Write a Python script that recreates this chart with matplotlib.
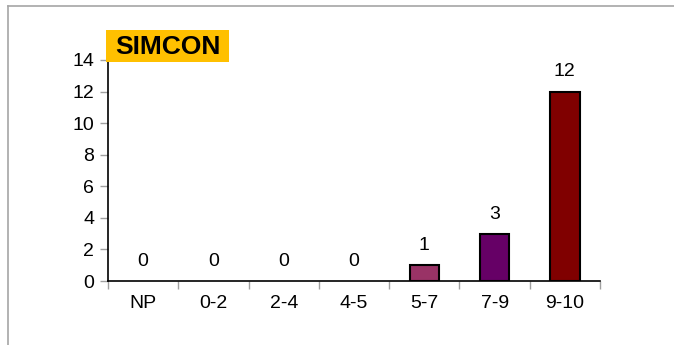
import matplotlib
matplotlib.use("Agg")
import matplotlib.pyplot as plt
from matplotlib.lines import Line2D
from matplotlib.patches import Rectangle

categories = ["NP", "0-2", "2-4", "4-5", "5-7", "7-9", "9-10"]
values = [0, 0, 0, 0, 1, 3, 12]
bar_colors = ["#993366", "#993366", "#993366", "#993366", "#993366", "#660066", "#800000"]
title = "SIMCON"
yticks = [0, 2, 4, 6, 8, 10, 12, 14]

plt.rcParams['font.family'] = ['Liberation Sans', 'DejaVu Sans']

W, H = 674, 345
fig = plt.figure(figsize=(W / 100, H / 100), dpi=100)
fig.patch.set_facecolor("white")

ax = fig.add_axes([108 / W, 1 - 281 / H, (600 - 108) / W, (281 - 60) / H])
x = list(range(len(categories)))
lws = [1.5 if v > 0 else 0 for v in values]
ax.bar(x, values, width=0.42, color=bar_colors, edgecolor="black", linewidth=lws, zorder=3)
ax.set_xlim(-0.5, len(categories) - 0.5)
ax.set_ylim(0, 14)
ax.set_yticks(yticks)
ax.set_yticklabels([str(t) for t in yticks], fontsize=14)
ax.set_xticks([i - 0.5 for i in range(len(categories) + 1)], minor=False)
ax.set_xticklabels([])
ax.set_xticks(x, minor=True)
ax.set_xticklabels(categories, minor=True, fontsize=14)
ax.tick_params(axis="x", which="minor", length=0, pad=10)
ax.tick_params(axis="x", which="major", length=6, color="#a0a0a0", width=1)
ax.tick_params(axis="y", length=6, color="#a0a0a0", width=1, pad=4)
for s in ["top", "right"]:
    ax.spines[s].set_visible(False)
ax.spines["left"].set_color("black")
ax.spines["bottom"].set_color("black")
ax.spines["left"].set_linewidth(1.2)
ax.spines["bottom"].set_linewidth(1.2)

for xi, v in zip(x, values):
    ax.annotate(str(v), (xi, v), xytext=(0, 8), textcoords="offset points",
                ha="center", va="bottom", fontsize=14)

fig.add_artist(Rectangle((106 / W, 1 - 62 / H), 123 / W, 32 / H, facecolor="#FFC000",
                         edgecolor="none", transform=fig.transFigure, zorder=5))
fig.text(167.5 / W, 1 - 46.5 / H, title, fontsize=19, fontweight="bold", ha="center", va="center", zorder=6)

fig.add_artist(Line2D([7.5 / W, 7.5 / W], [0, 1 - 5.5 / H], color="#a6a6a6", lw=1.2, transform=fig.transFigure))
fig.add_artist(Line2D([7.5 / W, 1], [1 - 5.5 / H, 1 - 5.5 / H], color="#a6a6a6", lw=1.2, transform=fig.transFigure))

fig.savefig("out.png", dpi=100)
